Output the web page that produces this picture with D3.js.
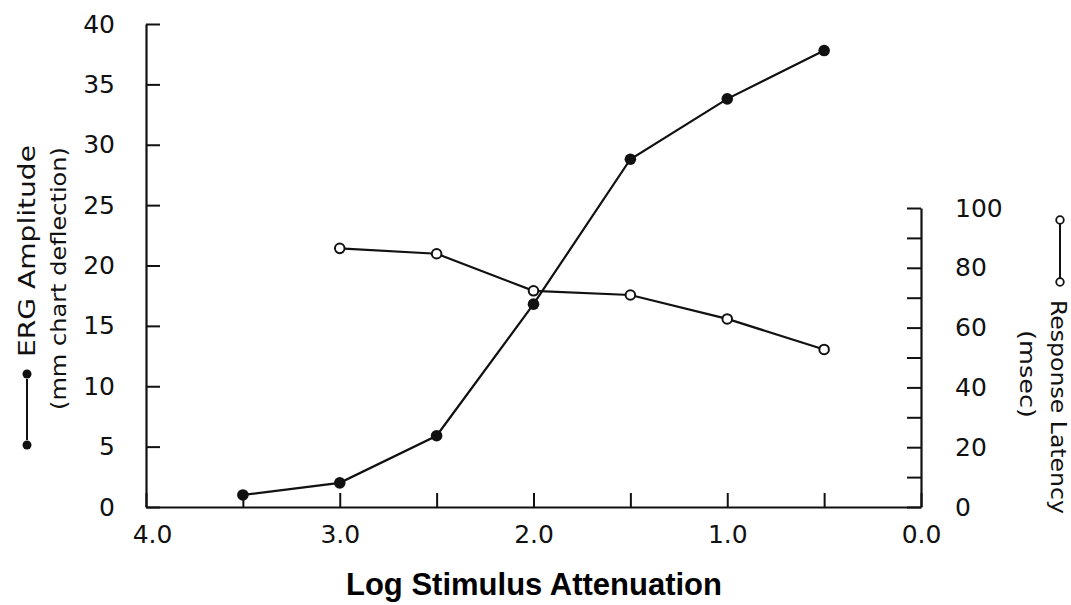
<!DOCTYPE html>
<html>
<head>
<meta charset="utf-8">
<script src="https://cdn.jsdelivr.net/npm/d3@7"></script>
<style>
  html, body { margin: 0; padding: 0; background: #fff; }
  svg { display: block; }
  .tick text { font-family: "DejaVu Sans", sans-serif; font-size: 25px; fill: #111; }
</style>
</head>
<body>
<svg id="chart" width="1071" height="605"></svg>
<script>
// ---- data ----
const ergX = [3.5, 3.0, 2.5, 2.0, 1.5, 1.0, 0.5];
const ergAmplitude = [1.0, 2.0, 5.9, 16.8, 28.8, 33.8, 37.8];
const latX = [3.0, 2.5, 2.0, 1.5, 1.0, 0.5];
const latency = [86.5, 84.7, 72.3, 70.9, 62.9, 52.7];
const xTicks = [4.0, 3.5, 3.0, 2.5, 2.0, 1.5, 1.0, 0.5, 0.0];
const leftTicks = [0, 5, 10, 15, 20, 25, 30, 35, 40];
const rightTicks = [0, 10, 20, 30, 40, 50, 60, 70, 80, 90, 100];
const xTitle = "Log Stimulus Attenuation";
const leftTitle1 = "ERG Amplitude";
const leftTitle2 = "(mm chart deflection)";
const rightTitle1 = "Response Latency";
const rightTitle2 = "(msec)";

const svg = d3.select("#chart");
const ink = "#111";

const x = d3.scaleLinear().domain([4, 0]).range([146, 921]);
const yL = d3.scaleLinear().domain([0, 40]).range([507, 24]);
const yR = d3.scaleLinear().domain([0, 100]).range([507, 208]);

// axes
const gx = svg.append("g").attr("transform", `translate(0,${yL(0)})`)
  .call(d3.axisBottom(x).tickValues(xTicks).tickSize(-14).tickSizeOuter(0).tickPadding(18)
    .tickFormat(d => Number.isInteger(d) ? d3.format(".1f")(d) : ""));
const gl = svg.append("g").attr("transform", `translate(${x(4)},0)`)
  .call(d3.axisLeft(yL).tickValues(leftTicks).tickSize(-14).tickSizeOuter(0).tickPadding(31));
const gr = svg.append("g").attr("transform", `translate(${x(0)},0)`)
  .call(d3.axisRight(yR).tickValues(rightTicks).tickSize(-14).tickSizeOuter(0).tickPadding(34)
    .tickFormat(d => d % 20 === 0 ? d : ""));
[gx, gl, gr].forEach(g => {
  g.selectAll("path.domain").attr("stroke", ink).attr("stroke-width", 2.2);
  g.selectAll(".tick line").attr("stroke", ink).attr("stroke-width", 2);
});
gx.select(".tick text").attr("dx", 6);

// lines
const ergData = ergX.map((d, i) => [d, ergAmplitude[i]]);
const latData = latX.map((d, i) => [d, latency[i]]);
svg.append("path").datum(ergData)
  .attr("fill", "none").attr("stroke", ink).attr("stroke-width", 2.2)
  .attr("d", d3.line().x(d => x(d[0])).y(d => yL(d[1])));
svg.append("path").datum(latData)
  .attr("fill", "none").attr("stroke", ink).attr("stroke-width", 2.2)
  .attr("d", d3.line().x(d => x(d[0])).y(d => yR(d[1])));

svg.append("g").selectAll("circle").data(latData).join("circle")
  .attr("cx", d => x(d[0])).attr("cy", d => yR(d[1])).attr("r", 4.8)
  .attr("fill", "#fff").attr("stroke", ink).attr("stroke-width", 2);
svg.append("g").selectAll("circle").data(ergData).join("circle")
  .attr("cx", d => x(d[0])).attr("cy", d => yL(d[1])).attr("r", 5.8)
  .attr("fill", ink);

// x title
svg.append("text").attr("x", 534).attr("y", 595).attr("text-anchor", "middle")
  .attr("font-family", "Liberation Sans, Arial, sans-serif").attr("font-weight", "bold")
  .attr("font-size", 31).attr("fill", "#000").text(xTitle);

// left titles
const lt = svg.append("g");
lt.append("circle").attr("cx", 27).attr("cy", 445).attr("r", 4.5).attr("fill", ink);
lt.append("circle").attr("cx", 27).attr("cy", 374).attr("r", 4.5).attr("fill", ink);
lt.append("line").attr("x1", 27).attr("x2", 27).attr("y1", 440).attr("y2", 379)
  .attr("stroke", ink).attr("stroke-width", 2);
lt.append("text").attr("transform", "translate(35,357) rotate(-90)")
  .attr("font-family", "DejaVu Sans, sans-serif").attr("font-size", 23).attr("fill", ink)
  .attr("textLength", 212).attr("lengthAdjust", "spacingAndGlyphs")
  .text(leftTitle1);
lt.append("text").attr("transform", "translate(66,410) rotate(-90)")
  .attr("font-family", "DejaVu Sans, sans-serif").attr("font-size", 22).attr("fill", ink)
  .attr("textLength", 263).attr("lengthAdjust", "spacingAndGlyphs")
  .text(leftTitle2);

// right titles
const rt = svg.append("g");
rt.append("circle").attr("cx", 1060).attr("cy", 220).attr("r", 3.8).attr("fill", "#fff").attr("stroke", ink).attr("stroke-width", 1.8);
rt.append("circle").attr("cx", 1060).attr("cy", 282).attr("r", 3.8).attr("fill", "#fff").attr("stroke", ink).attr("stroke-width", 1.8);
rt.append("line").attr("x1", 1060).attr("x2", 1060).attr("y1", 224).attr("y2", 278)
  .attr("stroke", ink).attr("stroke-width", 2);
rt.append("text").attr("transform", "translate(1051,300) rotate(90)")
  .attr("font-family", "DejaVu Sans, sans-serif").attr("font-size", 22).attr("fill", ink)
  .attr("textLength", 214).attr("lengthAdjust", "spacingAndGlyphs")
  .text(rightTitle1);
rt.append("text").attr("transform", "translate(1020,330) rotate(90)")
  .attr("font-family", "DejaVu Sans, sans-serif").attr("font-size", 22).attr("fill", ink)
  .attr("textLength", 88).attr("lengthAdjust", "spacingAndGlyphs")
  .text(rightTitle2);
</script>
</body>
</html>
